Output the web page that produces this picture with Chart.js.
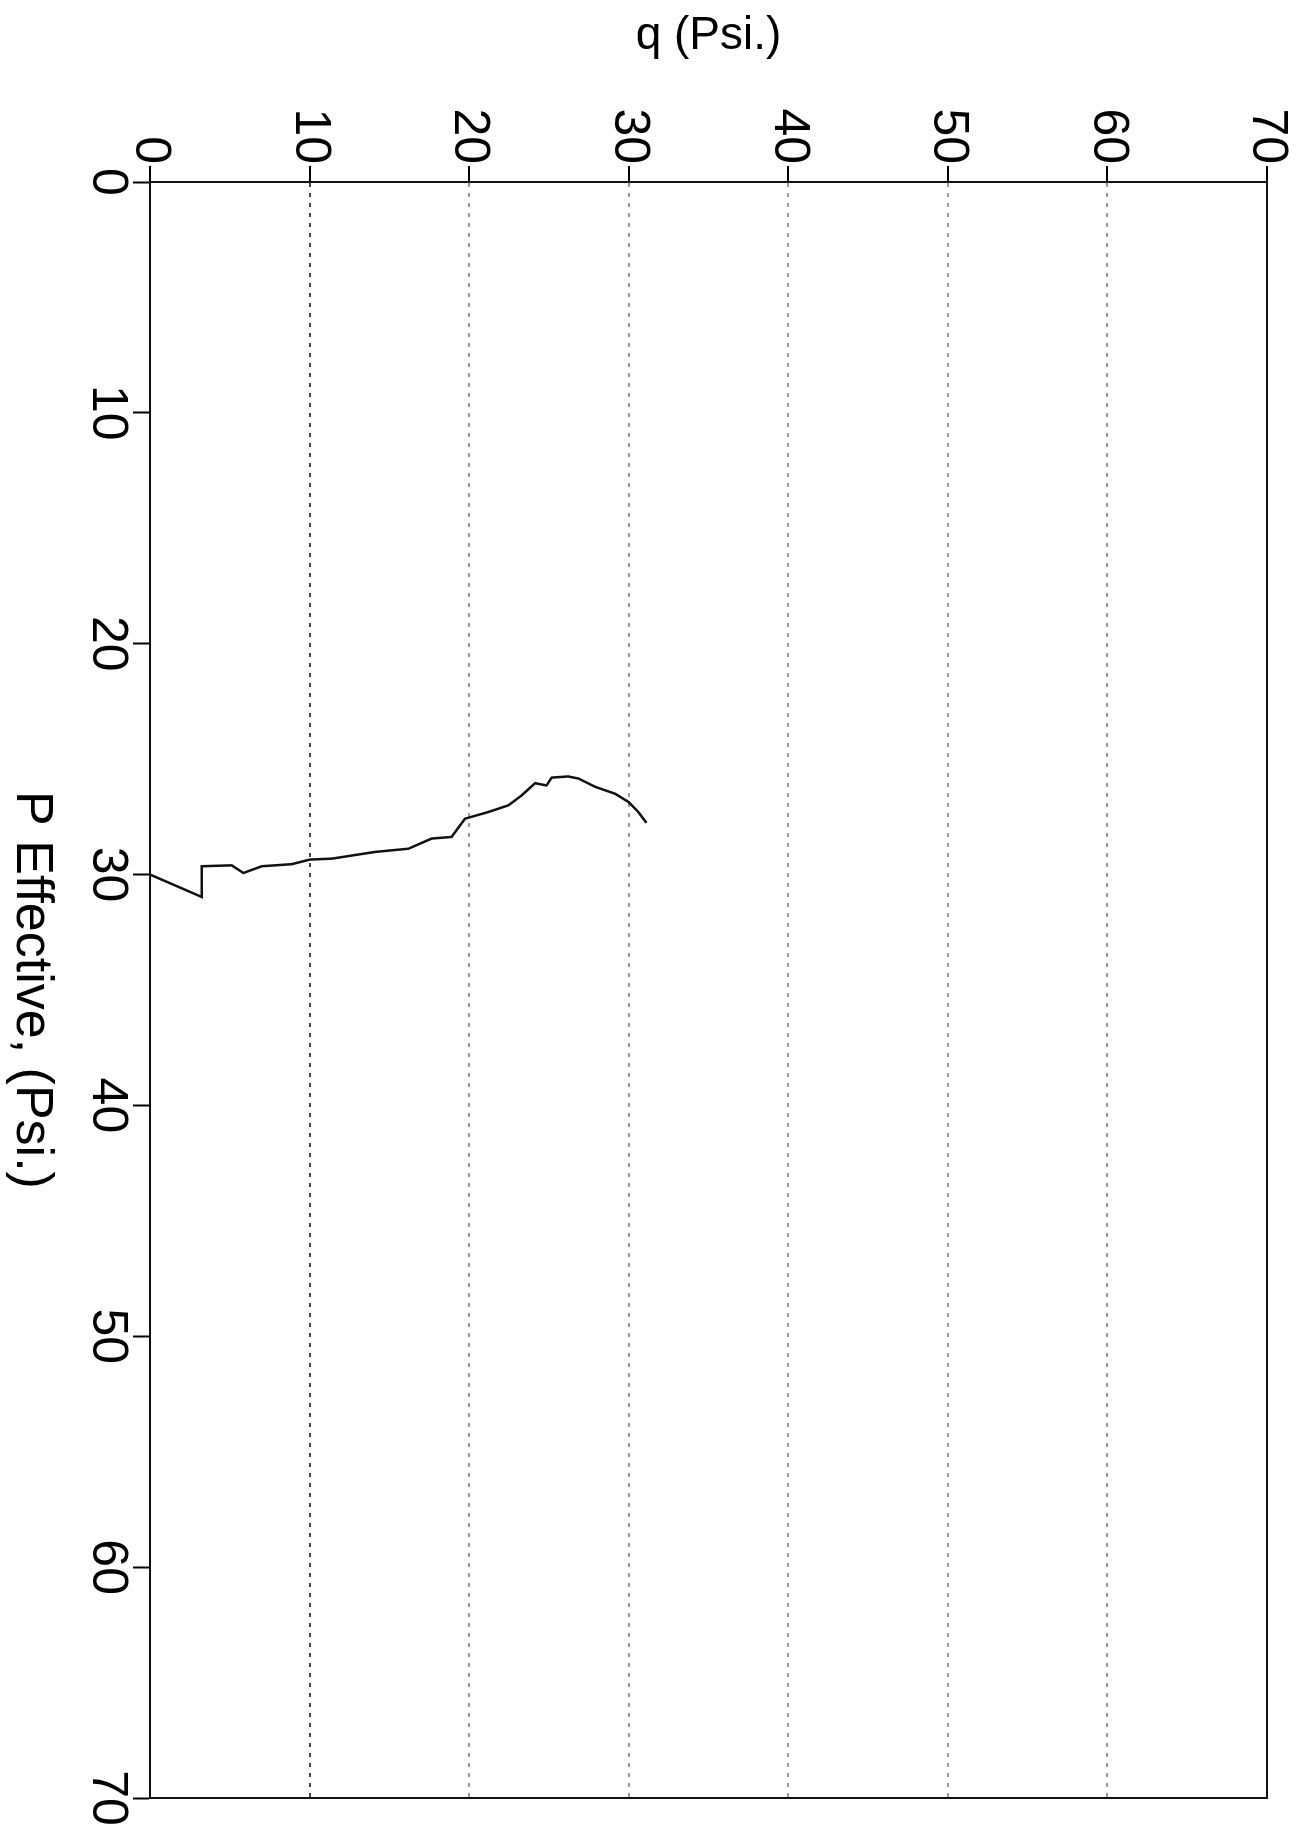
<!DOCTYPE html>
<html><head><meta charset="utf-8">
<script src="https://cdn.jsdelivr.net/npm/chart.js@4.4.1/dist/chart.umd.min.js"></script>
<style>
html,body{margin:0;padding:0;background:#fff;overflow:hidden;width:1316px;height:1835px;}
#wrap{position:absolute;left:0;top:0;width:1835px;height:1316px;transform-origin:0 0;transform:translate(1316px,0) rotate(90deg);background:#fff;}
canvas{display:block;}
</style></head><body>
<div id="wrap"><canvas id="c" width="1835" height="1316"></canvas></div>
<script>
// Data read from the (rotated) reference: P Effective (x) vs q (y), both in Psi.
const pEffective = [30.0, 30.97, 29.64, 29.6, 29.93, 29.64, 29.55, 29.35, 29.31, 29.02, 28.88, 28.44, 28.37, 27.58, 27.29, 27.0, 26.57, 26.04, 26.14, 25.8, 25.75, 25.84, 26.2, 26.5, 26.86, 27.29, 27.76];
const qValues   = [0.0, 3.24, 3.24, 5.12, 5.85, 7.0, 8.88, 10.03, 11.4, 14.1, 16.2, 17.65, 18.9, 19.74, 21.2, 22.46, 23.29, 24.13, 24.85, 25.17, 26.2, 26.85, 27.9, 29.15, 30.0, 30.6, 31.12];
const pTicks = [0, 10, 20, 30, 40, 50, 60, 70];
const qTicks = [0, 10, 20, 30, 40, 50, 60, 70];
const xTitle = 'P Effective, (Psi.)';
const yTitle = 'q (Psi.)';

const FONT = "'Liberation Sans', Arial, Helvetica, sans-serif";
const points = pEffective.map((p, i) => ({x: p, y: qValues[i]}));

const boxPlugin = {
  id: 'box',
  afterDraw(chart) {
    const {ctx, chartArea: a} = chart;
    ctx.save();
    ctx.strokeStyle = '#111';
    ctx.lineWidth = 2;
    ctx.strokeRect(a.left, a.top, a.right - a.left, a.bottom - a.top);
    ctx.restore();
  }
};

new Chart(document.getElementById('c'), {
  type: 'scatter',
  data: {
    datasets: [{
      data: points,
      showLine: true,
      borderColor: '#111',
      borderWidth: 2.5,
      pointRadius: 0,
      tension: 0,
      fill: false
    }]
  },
  options: {
    responsive: false,
    animation: false,
    devicePixelRatio: 1,
    layout: {padding: {top: 49, right: 37, left: 0, bottom: 0}},
    plugins: {legend: {display: false}, tooltip: {enabled: false}},
    scales: {
      x: {
        type: 'linear', position: 'bottom', min: pTicks[0], max: pTicks[pTicks.length - 1],
        afterBuildTicks: s => { s.ticks = pTicks.map(v => ({value: v})); },
        afterFit: s => { s.height = 150; },
        ticks: {color: '#000', font: {family: FONT, size: 50, lineHeight: 1}, padding: 1, maxRotation: 0, minRotation: 0, autoSkip: false},
        grid: {drawOnChartArea: false, drawTicks: true, tickLength: 17, tickWidth: 2, tickColor: '#000'},
        border: {display: true, color: '#000', width: 2},
        title: {display: true, text: xTitle, color: '#000', font: {family: FONT, size: 52}, padding: {top: 0, bottom: 0}}
      },
      y: {
        type: 'linear', position: 'left', min: qTicks[0], max: qTicks[qTicks.length - 1],
        afterBuildTicks: s => { s.ticks = qTicks.map(v => ({value: v})); },
        afterFit: s => { s.width = 182; },
        ticks: {color: '#000', font: {family: FONT, size: 50, lineHeight: 1}, padding: 2, autoSkip: false},
        grid: {
          drawOnChartArea: true, drawTicks: true, tickLength: 16, tickWidth: 2, tickColor: '#000', lineWidth: 2,
          color: c => {
            const v = c.tick ? c.tick.value : null;
            if (v === qTicks[0] || v === qTicks[qTicks.length - 1]) return 'rgba(0,0,0,0)';
            return v === 10 ? '#444' : '#9a9a9a';
          }
        },
        border: {display: true, color: '#000', width: 2, dash: [4, 6]},
        title: {display: true, text: yTitle, color: '#000', font: {family: FONT, size: 46}, padding: {top: 9, bottom: 0}}
      }
    }
  },
  plugins: [boxPlugin]
});
</script>
</body></html>
